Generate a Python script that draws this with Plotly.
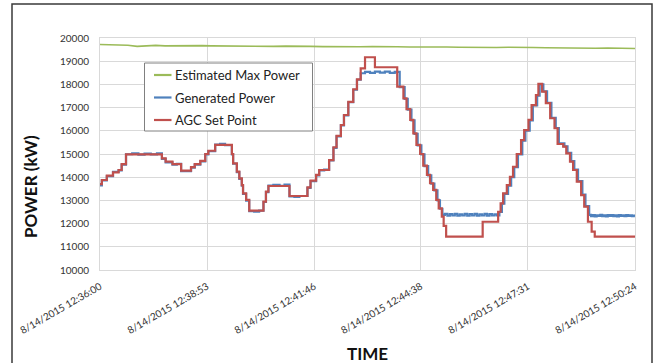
import plotly.graph_objects as go
import pandas as pd

# ---------------- data (seconds after 8/14/2015 12:36:00, kW) ----------------
start = pd.Timestamp("2015-08-14 12:36:00")

series_names = ["Estimated Max Power", "Generated Power", "AGC Set Point"]

max_t = [0, 15, 30, 45, 60, 75, 90, 105, 120, 135,
         150, 165, 180, 200, 220, 240, 260, 280, 300, 320,
         340, 360, 380, 400, 420, 440, 460, 480, 500, 520,
         540, 560, 580, 600, 620, 640, 660, 680, 700, 720,
         740, 760, 780, 800, 820, 840, 864]
max_v = [19720, 19710, 19700, 19690, 19640, 19670, 19680, 19660, 19670, 19650,
         19660, 19670, 19660, 19650, 19660, 19640, 19650, 19640, 19650, 19630,
         19640, 19630, 19620, 19630, 19620, 19630, 19610, 19620, 19610, 19620,
         19600, 19610, 19600, 19590, 19600, 19590, 19600, 19580, 19590, 19580,
         19570, 19580, 19570, 19560, 19570, 19550, 19550]

gen_t = [0, 3, 11, 21, 30, 35, 42, 52, 62, 72,
         82, 92, 100, 106, 117, 124, 131, 147, 153, 162,
         170, 175, 186, 194, 202, 213, 215, 221, 225, 229,
         231, 236, 241, 249, 257, 264, 268, 272, 280, 290,
         298, 306, 314, 322, 335, 340, 349, 354, 362, 370,
         377, 382, 389, 394, 401, 409, 415, 421, 428, 436,
         444, 452, 460, 468, 476, 484, 492, 497, 503, 508,
         513, 519, 524, 530, 535, 540, 545, 549, 553, 557,
         561, 565, 569, 573, 577, 581, 585, 589, 593, 597,
         601, 605, 609, 613, 617, 621, 625, 629, 633, 637,
         641, 645, 649, 653, 659, 664, 669, 675, 682, 687,
         694, 699, 706, 710, 716, 722, 729, 736, 741, 750,
         755, 761, 766, 772, 779, 784, 790, 793, 796, 799,
         802, 805, 808, 811, 814, 817, 820, 823, 826, 829,
         832, 835, 838, 841, 844, 847, 850, 853, 856, 859,
         862, 864]
gen_v = [13650, 13860, 14040, 14230, 14290, 14540, 14990, 15030, 14970, 15020,
         14980, 15030, 14790, 14640, 14540, 14580, 14260, 14410, 14540, 14680,
         14980, 15120, 15400, 15440, 15380, 14980, 14580, 14220, 13930, 13640,
         13280, 12990, 12540, 12520, 12560, 12930, 13360, 13640, 13670, 13630,
         13680, 13170, 13150, 13190, 13540, 13830, 14080, 14290, 14330, 14720,
         15260, 15760, 16230, 16660, 17230, 17770, 18200, 18480, 18540, 18500,
         18550, 18510, 18550, 18500, 18540, 17880, 17380, 16910, 16450, 15870,
         15370, 14980, 14480, 14080, 13720, 13430, 13000, 12640, 12380, 12420,
         12340, 12410, 12350, 12420, 12340, 12400, 12350, 12420, 12340, 12410,
         12350, 12420, 12340, 12400, 12350, 12420, 12340, 12410, 12350, 12400,
         12350, 12500, 12860, 13280, 13640, 14000, 14430, 14980, 15580, 16010,
         16450, 17090, 17520, 18000, 17700, 17210, 16560, 16120, 15460, 15330,
         15050, 14690, 14330, 13830, 13250, 12750, 12380, 12320, 12370, 12310,
         12360, 12330, 12380, 12320, 12360, 12310, 12370, 12330, 12370, 12320,
         12360, 12310, 12370, 12330, 12360, 12320, 12370, 12330, 12360, 12320,
         12350, 12340]

agc_t = [0, 3, 11, 21, 30, 35, 42, 100, 106, 117,
         131, 147, 153, 162, 170, 175, 186, 213, 215, 221,
         225, 229, 231, 236, 241, 264, 268, 272, 306, 335,
         340, 349, 354, 370, 377, 382, 389, 394, 401, 409,
         415, 421, 428, 444, 480, 490, 495, 501, 506, 511,
         517, 522, 528, 533, 538, 543, 547, 552, 555, 559,
         618, 643, 647, 651, 657, 662, 667, 673, 680, 685,
         692, 697, 704, 708, 714, 720, 727, 734, 739, 748,
         753, 759, 764, 770, 777, 782, 788, 794, 799, 864]
agc_v = [13700, 13880, 14070, 14210, 14310, 14560, 14980, 14810, 14670, 14560,
         14280, 14430, 14560, 14700, 15000, 15140, 15390, 15000, 14600, 14240,
         13950, 13660, 13300, 13020, 12560, 12950, 13380, 13620, 13190, 13560,
         13850, 14100, 14310, 14740, 15290, 15780, 16250, 16680, 17250, 17790,
         18220, 18690, 19170, 18740, 17900, 17400, 16930, 16470, 15890, 15390,
         15000, 14500, 14100, 13740, 13450, 13020, 12660, 12300, 11900, 11440,
         12080, 12510, 12870, 13300, 13660, 14020, 14450, 15000, 15600, 16030,
         16470, 17110, 17540, 18020, 17690, 17190, 16540, 16110, 15430, 15320,
         15030, 14670, 14310, 13810, 13230, 12730, 12080, 11650, 11440, 11440]

tick_sec = [0, 173, 346, 518, 691, 864]
tick_labels = ["8/14/2015 12:36:00", "8/14/2015 12:38:53", "8/14/2015 12:41:46",
               "8/14/2015 12:44:38", "8/14/2015 12:47:31", "8/14/2015 12:50:24"]

colors = ["#9BBB59", "#4F81BD", "#C0504D"]


def to_time(secs):
    return [start + pd.Timedelta(seconds=s) for s in secs]


# ---------------- layout geometry (pixels) ----------------
W, H = 656, 363
L, R, T, B = 100, 635, 38, 270


def px(x):
    return (x - L) / (R - L)


def py(y):
    return (B - y) / (B - T)


FONT = "Lato"

fig = go.Figure()
fig.add_trace(go.Scatter(x=to_time(max_t), y=max_v, mode="lines", name=series_names[0],
                         line=dict(color=colors[0], width=1.6), showlegend=False))
fig.add_trace(go.Scatter(x=to_time(gen_t), y=gen_v, mode="lines", name=series_names[1],
                         line=dict(color=colors[1], width=2.2, shape="hv"), showlegend=False))
fig.add_trace(go.Scatter(x=to_time(agc_t), y=agc_v, mode="lines", name=series_names[2],
                         line=dict(color=colors[2], width=2.2, shape="hv"), showlegend=False))

grid = "#d9d9d9"
fig.update_xaxes(
    type="date",
    range=[start, start + pd.Timedelta(seconds=864)],
    tickmode="array",
    tickvals=to_time(tick_sec),
    ticktext=tick_labels,
    tickangle=-30,
    tickfont=dict(family=FONT, size=10, color="#333333"),
    showgrid=True, gridcolor=grid, gridwidth=1,
    showline=True, linecolor=grid, linewidth=1, mirror=True,
    ticks="outside", ticklen=6, tickcolor="rgba(0,0,0,0)",
    zeroline=False,
)
fig.update_yaxes(
    range=[10000, 20000],
    tickmode="linear", tick0=10000, dtick=1000,
    tickformat="d",
    tickfont=dict(family=FONT, size=10, color="#333333"),
    showgrid=True, gridcolor=grid, gridwidth=1,
    showline=True, linecolor=grid, linewidth=1, mirror=True,
    ticks="outside", ticklen=8, tickcolor="rgba(0,0,0,0)",
    zeroline=False,
)

shapes = []
# outer chart frame
shapes.append(dict(type="rect", xref="paper", yref="paper",
                   x0=px(12), x1=px(652), y0=py(380), y1=py(4),
                   line=dict(color="#3a3a3a", width=1.5), fillcolor="rgba(0,0,0,0)",
                   layer="above"))
# legend box
shapes.append(dict(type="rect", xref="paper", yref="paper",
                   x0=px(144.5), x1=px(312.5), y0=py(131), y1=py(63),
                   line=dict(color="#808080", width=1), fillcolor="white", layer="above"))
rows_y = [75, 97.5, 120]
annotations = []
for name, c, yy in zip(series_names, colors, rows_y):
    shapes.append(dict(type="line", xref="paper", yref="paper",
                       x0=px(154), x1=px(171.5), y0=py(yy), y1=py(yy),
                       line=dict(color=c, width=2.2), layer="above"))
    annotations.append(dict(text=name, xref="paper", yref="paper", x=px(172.5), y=py(yy),
                            xanchor="left", yanchor="middle", showarrow=False,
                            font=dict(family=FONT, size=13, color="#222222")))

annotations.append(dict(text="<b>POWER (kW)</b>", xref="paper", yref="paper",
                        x=px(31), y=py(187), textangle=-90, showarrow=False,
                        xanchor="center", yanchor="middle",
                        font=dict(family=FONT, size=17, color="#111111")))
annotations.append(dict(text="<b>TIME</b>", xref="paper", yref="paper",
                        x=px(367), y=py(353), showarrow=False,
                        xanchor="center", yanchor="middle",
                        font=dict(family=FONT, size=17, color="#111111")))

fig.update_layout(
    width=W, height=H,
    margin=dict(l=L, r=W - R, t=T, b=H - B),
    paper_bgcolor="white", plot_bgcolor="white",
    shapes=shapes, annotations=annotations,
    showlegend=False,
    font=dict(family=FONT),
)

fig.write_html("out.html")
